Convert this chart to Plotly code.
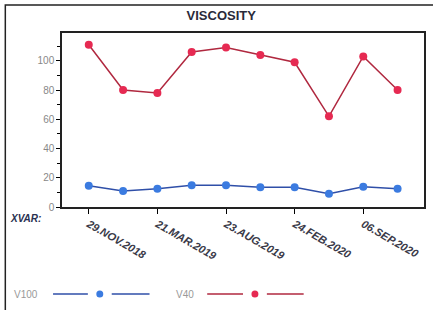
import plotly.graph_objects as go

sample_idx = list(range(10))
tick_positions = [0, 2, 4, 6, 8]
tick_labels = ["29.NOV.2018", "21.MAR.2019", "23.AUG.2019", "24.FEB.2020", "06.SEP.2020"]
v100 = [14.5, 11, 12.5, 14.8, 14.8, 13.5, 13.5, 9, 13.8, 12.5]
v40 = [111, 80, 78, 106, 109, 104, 99, 62, 103, 80]

L, R, T, B = 62, 7, 33, 103
W, H = 433, 310
pw, ph = W - L - R, H - T - B

def px(xp):
    return (xp - L) / pw

def py(yp):
    return (H - B - yp) / ph

fig = go.Figure()
fig.add_trace(go.Scatter(x=sample_idx, y=v100, mode="lines+markers", name="V100",
                         line=dict(color="#2f4fa8", width=1.5),
                         marker=dict(color="#3b7be0", size=8)))
fig.add_trace(go.Scatter(x=sample_idx, y=v40, mode="lines+markers", name="V40",
                         line=dict(color="#b0283f", width=1.5),
                         marker=dict(color="#e62a52", size=8)))

fig.update_layout(
    width=W, height=H, margin=dict(l=L, r=R, t=T, b=B),
    paper_bgcolor="white", plot_bgcolor="white", showlegend=False,
    font=dict(family="Liberation Sans", color="#333"),
    title=dict(text="<b>VISCOSITY</b>", x=px(248), xanchor="center", y=1 - 15 / H, yanchor="middle",
               font=dict(size=13, color="#2a2a3a")),
)
fig.update_xaxes(range=[-0.78, 9.77], tickvals=tick_positions,
                 ticktext=["<b><i>" + t + "</i></b>" for t in tick_labels],
                 tickangle=30, ticks="outside", ticklen=5, tickcolor="black",
                 showgrid=False, zeroline=False, showline=True, linecolor="#222", linewidth=1.5, mirror=True,
                 tickfont=dict(size=11, color="#3a3a48", family="Liberation Sans"))
fig.update_yaxes(range=[0, 119], tickvals=[0, 20, 40, 60, 80, 100], ticks="outside", ticklen=4, tickcolor="black",
                 minor=dict(dtick=10, tick0=0, ticks="outside", ticklen=3, tickcolor="black"),
                 showgrid=False, zeroline=False, showline=True, linecolor="#222", linewidth=1.5, mirror=True,
                 tickfont=dict(size=10, color="#888"))

# outer frame
fig.add_shape(type="rect", xref="paper", yref="paper", x0=px(5), x1=px(440), y0=py(320), y1=py(5),
              line=dict(color="#222", width=1.5), fillcolor="rgba(0,0,0,0)")

fig.add_annotation(text="<b><i>XVAR:</i></b>", xref="paper", yref="paper", x=px(8), y=py(219),
                   xanchor="left", yanchor="middle", showarrow=False, font=dict(size=10, color="#2a3050"))

# legend
legend_items = [("V100", "#2f4fa8", "#3b7be0", 12, 53, 100, 150),
                ("V40", "#b0283f", "#e62a52", 175, 208, 256, 305)]
ly = py(294)
for name, lc, mc, tx, lx0, mx, lx1 in legend_items:
    fig.add_annotation(text=name, xref="paper", yref="paper", x=px(tx), y=ly, xanchor="left", yanchor="middle",
                       showarrow=False, font=dict(size=10, color="#999"))
    fig.add_shape(type="line", xref="paper", yref="paper", x0=px(lx0), x1=px(mx - 12), y0=ly, y1=ly,
                  line=dict(color=lc, width=1.5))
    fig.add_shape(type="line", xref="paper", yref="paper", x0=px(mx + 12), x1=px(lx1), y0=ly, y1=ly,
                  line=dict(color=lc, width=1.5))
    fig.add_shape(type="circle", xref="paper", yref="paper", x0=px(mx - 3.5), x1=px(mx + 3.5),
                  y0=py(294 + 3.5), y1=py(294 - 3.5), line=dict(color=mc, width=0), fillcolor=mc)

fig.write_html("out.html", config={"displayModeBar": False},
               post_script="document.body.style.margin='0';document.body.style.overflow='hidden';")
